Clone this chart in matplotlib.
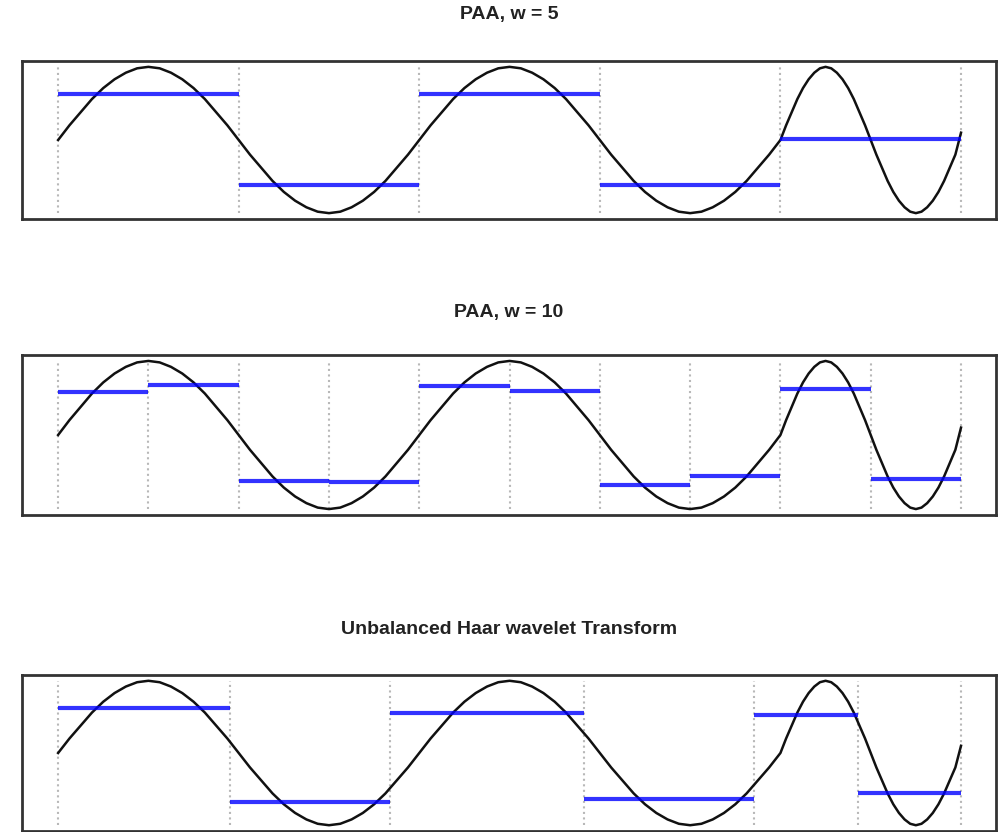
import numpy as np
import matplotlib.pyplot as plt

# time series: slow wave (x = 0..63, step 1) then fast wave (x = 64..80, step 0.5)
slow_part = [0.00, 0.20, 0.38, 0.56, 0.71, 0.83, 0.92, 0.98, 1.00, 0.98, 0.92, 0.83, 0.71, 0.56, 0.38, 0.20,
             0.00, -0.20, -0.38, -0.56, -0.71, -0.83, -0.92, -0.98, -1.00, -0.98, -0.92, -0.83, -0.71, -0.56, -0.38, -0.20,
             0.00, 0.20, 0.38, 0.56, 0.71, 0.83, 0.92, 0.98, 1.00, 0.98, 0.92, 0.83, 0.71, 0.56, 0.38, 0.20,
             0.00, -0.20, -0.38, -0.56, -0.71, -0.83, -0.92, -0.98, -1.00, -0.98, -0.92, -0.83, -0.71, -0.56, -0.38, -0.20]
fast_part = [0.00, 0.20, 0.38, 0.56, 0.71, 0.83, 0.92, 0.98, 1.00, 0.98, 0.92, 0.83, 0.71, 0.56, 0.38, 0.20,
             0.00, -0.20, -0.38, -0.56, -0.71, -0.83, -0.92, -0.98, -1.00, -0.98, -0.92, -0.83, -0.71, -0.56, -0.38, -0.20,
             0.10]

# segment edges and segment means for each panel
paa5_edges = [0, 16, 32, 48, 64, 80]
paa5_values = [0.63, -0.62, 0.63, -0.62, 0.01]

paa10_edges = [0, 8, 16, 24, 32, 40, 48, 56, 64, 72, 80]
paa10_values = [0.58, 0.68, -0.62, -0.63, 0.66, 0.59, -0.68, -0.56, 0.62, -0.60]

haar_edges = [0, 15.2, 29.4, 46.6, 61.7, 70.9, 80]
haar_values = [0.63, -0.68, 0.56, -0.64, 0.52, -0.55]

titles = ['PAA, w = 5', 'PAA, w = 10', 'Unbalanced Haar wavelet Transform']

x = np.concatenate([np.arange(len(slow_part)), len(slow_part) + 0.5 * np.arange(len(fast_part))])
signal = np.array(slow_part + fast_part)

fig = plt.figure(figsize=(9.98, 8.32), dpi=100)

W, H = 998, 832
# axes boxes in pixels: (left, top, right, bottom)
boxes = [(22, 61, 996, 219), (22, 355, 996, 515), (22, 675, 996, 831)]
title_y = [15, 312, 629]

panels = [(paa5_edges, paa5_values), (paa10_edges, paa10_values), (haar_edges, haar_values)]

for (l, t, r, b), ty, title, (edges, vals) in zip(boxes, title_y, titles, panels):
    ax = fig.add_axes([l / W, 1 - b / H, (r - l) / W, (b - t) / H])
    for e in edges:
        ax.plot([e, e], [-1, 1], color='#b8b8b8', linestyle=':', lw=1.5, zorder=1)
    ax.plot(x, signal, color='#111111', lw=1.8, zorder=2)
    for i, v in enumerate(vals):
        ax.plot([edges[i], edges[i + 1]], [v, v], color='#0000ff', lw=3, alpha=0.8,
                solid_capstyle='butt', zorder=3)
    ax.set_xlim(-3.2, 83.1)
    ax.set_ylim(-1.08, 1.08)
    ax.set_xticks([])
    ax.set_yticks([])
    for s in ax.spines.values():
        s.set_linewidth(2)
        s.set_color('#333333')
    fig.text(0.5 * (l + r) / W, 1 - ty / H, title, ha='center', va='center',
             fontsize=14, fontweight='bold', family='Liberation Sans', color='#222222')

fig.savefig('out.png', dpi=100)
